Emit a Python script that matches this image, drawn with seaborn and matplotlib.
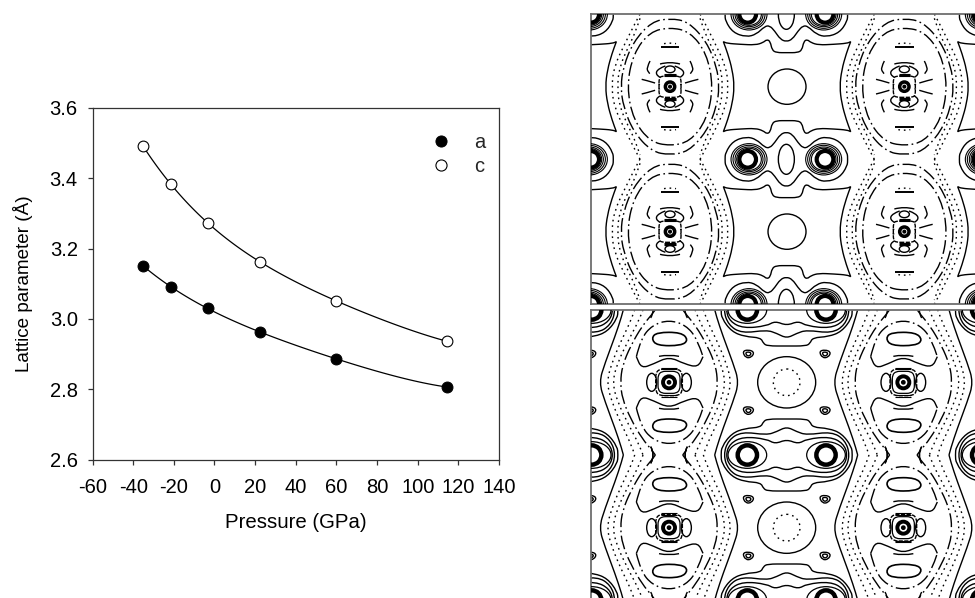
import numpy as np
import pandas as pd
import matplotlib
matplotlib.use("Agg")
import matplotlib.pyplot as plt
import seaborn as sns
from matplotlib.path import Path
from matplotlib.patches import PathPatch, Ellipse
from matplotlib.lines import Line2D

# ---------- left chart data ----------
pressure = [-35.1, -21.5, -3.2, 22.6, 59.6, 114.6]
lattice_a = [3.151, 3.091, 3.030, 2.962, 2.887, 2.806]
lattice_c = [3.491, 3.384, 3.272, 3.162, 3.052, 2.936]
x_ticks = [-60, -40, -20, 0, 20, 40, 60, 80, 100, 120, 140]
y_ticks = [2.6, 2.8, 3.0, 3.2, 3.4, 3.6]

# ---------- contour traces (3x image pixels, relative to motif centres) ----------
up_atoms_x = [255, 958]
up_atoms_y = [260, 695]
up_oval_x = [-97, 606, 1309]
up_pair_x = [-99, 604, 1307]
up_pair_y = [43, 478, 913]
up_star = [(0,102),(32,102),(45,110),(50,135),(60,142),(72,132),(95,125),(140,127),(180,130),(191,135),(191,135),(178,100),(164,50),(158,0)]
up_pair_outer = [(0,82),(18,75),(35,50),(50,34),(65,36),(90,60),(120,68),(160,55),(183,20),(184,0)]
up_lobes = [(54,47),(48,42),(42,37),(37,33)]
up_dots_outer = [(-175,0),(-168,60),(-135,130),(-105,190),(-90,218)]
up_dots_inner = [(-158,0),(-152,58),(-125,120),(-105,160),(-90,205)]
up_oval_a = [(0,205),(55,195),(110,135),(140,60),(148,0)]
up_oval_b = [(0,178),(60,165),(110,100),(130,0)]
up_leg_long = [(-60,-77),(-70,-57),(-66,-44),(-58,-36)]
up_leg_short = [(-85,22),(-52,14),(-30,6)]
up_leg_upper = [(-14,-62),(-36,-54),(-44,-36),(-30,-28)]
up_arc = [(-30,-68),(0,-76),(30,-68)]
up_box = [(0,32),(25,32),(33,25),(33,0)]

lo_atoms_x = [252, 955]
lo_atoms_y = [262, 698]
lo_centre_x = [-98, 605, 1308]
lo_pair_y = [45, 480, 915]
lo_strand_solid = [(-210,0),(-192,58),(-162,138),(-142,198),(-137,218)]
lo_strand_dots1 = [(-187,0),(-172,58),(-142,128),(-112,190),(-103,218)]
lo_strand_dots2 = [(-170,0),(-155,58),(-120,130),(-88,190),(-78,218)]
lo_strand_dash = [(-146,0),(-140,50),(-115,110),(-80,170),(-50,205),(-41,218)]
lo_wing_top = [(-98,-77),(-85,-130),(-50,-172),(0,-187),(50,-172),(85,-130),(102,-77)]
lo_wing_low = [(102,-77),(102,-77),(87,-45),(47,-55),(0,-77),(-47,-55),(-83,-42),(-98,-77),(-98,-77)]
lo_bean = [(-53,-132),(-37,-150),(37,-150),(58,-127),(37,-110),(-37,-110)]
lo_cusp = [(-55,-25),(-41,0),(-55,25)]
lo_pair_outer = [(0,108),(58,108),(70,100),(78,83),(125,80),(165,65),(195,25),(197,0)]
lo_pair_wave1 = [(0,85),(30,70),(60,60),(135,70),(175,45),(190,0)]
lo_pair_wave2 = [(0,47),(35,33),(60,48),(130,55),(170,35),(183,0)]
lo_tear = [(-18,-8),(0,-13),(18,-6),(10,10),(-8,12)]

sns.set_theme(style="ticks")
plt.rcParams["font.family"] = ["Liberation Sans", "DejaVu Sans"]
plt.rcParams["lines.scale_dashes"] = False
plt.rcParams["axes.unicode_minus"] = False

W, H = 975, 598
fig = plt.figure(figsize=(W / 100, H / 100), dpi=100)

def add_axes(x0, y0, x1, y1):
    return fig.add_axes([x0 / W, 1 - y1 / H, (x1 - x0) / W, (y1 - y0) / H])

# ---------- left chart ----------
ax = add_axes(92.5, 108, 499, 459.5)
df = pd.DataFrame({"P": pressure, "a": lattice_a, "c": lattice_c})
for col in ["a", "c"]:
    sns.regplot(data=df, x="P", y=col, order=4, ci=None, scatter=False, ax=ax,
                line_kws=dict(color="black", lw=0.9, zorder=2))
sns.scatterplot(data=df, x="P", y="a", ax=ax, s=62, color="black", edgecolor="black", linewidth=0.7, zorder=3)
sns.scatterplot(data=df, x="P", y="c", ax=ax, s=60, color="white", edgecolor="black", linewidth=0.8, zorder=3)
ax.set_xlim(-60, 140)
ax.set_ylim(2.6, 3.6)
ax.set_xticks(x_ticks)
ax.set_yticks(y_ticks)
ax.set_yticklabels([f"{v:.1f}" for v in y_ticks])
ax.tick_params(labelsize=14.5, length=3.6, width=0.9, color="#333333", labelcolor="black")
ax.tick_params(axis="y", pad=7)
ax.tick_params(axis="x", pad=10)
ax.set_xlabel("Pressure (GPa)", fontsize=14.7, labelpad=11, color="black")
ax.set_ylabel("Lattice parameter (Å)", fontsize=13.6, labelpad=12, color="black")
for s in ax.spines.values():
    s.set_visible(True)
    s.set_linewidth(0.9)
    s.set_color("#333333")
handles = [Line2D([], [], ls="", marker="o", ms=8, mfc="black", mec="black", mew=0.7),
           Line2D([], [], ls="", marker="o", ms=8, mfc="white", mec="black", mew=0.8)]
ax.legend(handles, ["a", "c"], frameon=False, fontsize=14.5, loc="upper right",
          bbox_to_anchor=(0.966, 0.93), labelspacing=0.25, handletextpad=0.62, borderpad=0, borderaxespad=0)

# ---------- contour helpers ----------
SOLID = "-"
DASHDOT = (0, (10, 2.5, 1.2, 2.5))
DOTS = (0, (1.2, 2.8))
LW = 1.0

def smooth(pts, closed=False):
    p = np.asarray(pts, float)
    if closed:
        m0 = (p[-1] + p[0]) / 2
        verts, codes = [m0], [Path.MOVETO]
        for i in range(len(p)):
            verts += [p[i], (p[i] + p[(i + 1) % len(p)]) / 2]
            codes += [Path.CURVE3, Path.CURVE3]
    else:
        verts, codes = [p[0]], [Path.MOVETO]
        for i in range(1, len(p) - 1):
            end = (p[i] + p[i + 1]) / 2 if i < len(p) - 2 else p[-1]
            verts += [p[i], end]
            codes += [Path.CURVE3, Path.CURVE3]
        if len(p) == 2:
            verts, codes = [p[0], p[1]], [Path.MOVETO, Path.LINETO]
    return np.array(verts), codes

def stroke(a, pts, centres, ls=SOLID, closed=False, lw=LW, sx=1, sy=1):
    v, c = smooth(pts, closed)
    for cx, cy in centres:
        a.add_patch(PathPatch(Path(v * [sx, sy] + [cx, cy], c), fc="none", ec="black", lw=lw, ls=ls, capstyle="butt", zorder=2))

def quad(q):
    q = np.asarray(q, float)
    return np.vstack([q, (q[::-1] * [1, -1])[1:], (q * [-1, -1])[1:], (q[::-1] * [-1, 1])[1:-1]])

def strand(h):
    h = np.asarray(h, float)
    return np.vstack([(h[::-1] * [1, -1])[:-1], h])

def ellipses(a, centres, rx, ry, lw=LW, ls=SOLID, fc="none"):
    for cx, cy in centres:
        a.add_patch(Ellipse((cx, cy), 2 * rx, 2 * ry, fc=fc, ec="black", lw=lw, ls=ls, zorder=3))

def grid(xs, ys):
    return [(x, y) for x in xs for y in ys]

def panel(x0, y0, x1, y1, xl, yl, sides):
    a = add_axes(x0, y0, x1, y1)
    a.set_xlim(*xl)
    a.set_ylim(*yl)
    a.set_xticks([])
    a.set_yticks([])
    a.set_facecolor("none")
    for k, s in a.spines.items():
        s.set_visible(k in sides)
        s.set_color("#6e6e6e")
        s.set_linewidth(1.3)
    return a

# ---------- upper map ----------
u = panel(590.7, 14, 975, 304.3, (17, 1170), (913, 42), ("left", "top", "bottom"))
atoms = grid(up_atoms_x, up_atoms_y)
ovals = grid(up_oval_x, up_atoms_y)
pairs = grid(up_pair_x, up_pair_y)
stroke(u, quad(up_star), ovals, closed=True)
ellipses(u, ovals, 57, 53)
stroke(u, quad(up_pair_outer), pairs, closed=True)
ellipses(u, pairs, 24, 45)
for sgn in (-1, 1):
    side = [(x + sgn * 116, y) for x, y in pairs]
    for rx, ry in up_lobes:
        ellipses(u, [(x - sgn * 4, y) for x, y in side], rx, ry, lw=0.8)
    ellipses(u, side, 25, 25, lw=3.0)
for sx in (-1, 1):
    stroke(u, strand(up_dots_outer), atoms, DOTS, sx=sx)
    stroke(u, strand(up_dots_inner), atoms, DOTS, sx=sx)
    for sy in (-1, 1):
        stroke(u, up_leg_long, atoms, DASHDOT, sx=sx, sy=sy)
        stroke(u, up_leg_short, atoms, DASHDOT, sx=sx, sy=sy)
        stroke(u, up_leg_upper, atoms, sx=sx, sy=sy)
stroke(u, quad(up_oval_a), atoms, DASHDOT, closed=True)
stroke(u, quad(up_oval_b), atoms, DASHDOT, closed=True)
stroke(u, quad(up_box), atoms, (0, (3, 1)), closed=True)
for sy in (-1, 1):
    stroke(u, [(-28, 120), (28, 120)], atoms, lw=1.4, sy=sy)
    stroke(u, [(-18, 129), (0, 133), (18, 129)], atoms, DOTS, sy=sy)
    stroke(u, up_arc, atoms, sy=-sy)
    for k in (33, 36, 39):
        stroke(u, [(-17, k), (17, k)], atoms, lw=0.8, sy=sy)
    ellipses(u, [(x, y + sy * 52) for x, y in atoms], 15, 10)
ellipses(u, atoms, 14, 14, lw=2.5)
ellipses(u, atoms, 4, 4, fc="black")

# ---------- lower map ----------
l = panel(590.7, 310, 975, 598, (17, 1170), (909, 45), ("left", "top"))
atoms = grid(lo_atoms_x, lo_atoms_y)
ovals = grid(lo_centre_x, lo_atoms_y)
pairs = grid(lo_centre_x, lo_pair_y)
for sx in (-1, 1):
    stroke(l, strand(lo_strand_solid), atoms, sx=sx)
    stroke(l, strand(lo_strand_dots1), atoms, DOTS, sx=sx)
    stroke(l, strand(lo_strand_dots2), atoms, DOTS, sx=sx)
    stroke(l, strand(lo_strand_dash), atoms, DASHDOT, sx=sx)
    for dy in (-218, 218):
        stroke(l, lo_cusp, [(x, y + dy) for x, y in atoms], sx=sx)
for sy in (-1, 1):
    stroke(l, lo_wing_top, atoms, DASHDOT, sy=sy)
    stroke(l, lo_wing_low, atoms, sy=sy)
    stroke(l, lo_bean, atoms, closed=True, lw=1.2, sy=sy)
    stroke(l, [(-30, 78), (0, 84), (30, 78)], atoms, sy=sy)
    for k in (39, 43):
        stroke(l, [(-24, k), (24, k)], atoms, lw=0.8, sy=sy)
ellipses(l, [(x - 52, y) for x, y in atoms], 15, 27)
ellipses(l, [(x + 52, y) for x, y in atoms], 15, 27)
stroke(l, quad([(0, 40), (28, 40), (40, 28), (40, 0)]), atoms, (0, (3, 1)), closed=True)
stroke(l, quad([(0, 33), (22, 33), (33, 22), (33, 0)]), atoms, closed=True, lw=0.9)
ellipses(l, atoms, 18, 18, lw=2.8)
ellipses(l, atoms, 5, 5, fc="black")
ellipses(l, ovals, 87, 77)
ellipses(l, ovals, 40, 40, ls=DOTS)
for sx in (-1, 1):
    for sy in (-1, 1):
        tears = [(x + sx * 115, y + sy * 85) for x, y in ovals]
        stroke(l, lo_tear, tears, closed=True)
        stroke(l, np.array(lo_tear) * 0.5, tears, closed=True)
stroke(l, quad(lo_pair_outer), pairs, closed=True)
stroke(l, quad(lo_pair_wave1), pairs, closed=True)
stroke(l, quad(lo_pair_wave2), pairs, closed=True)
for sgn in (-1, 1):
    side = [(x + sgn * 118, y) for x, y in pairs]
    ellipses(l, side, 58, 40, lw=0.9)
    ellipses(l, side, 29, 29, lw=3.2)

fig.savefig("out.png", dpi=100, facecolor="white")
